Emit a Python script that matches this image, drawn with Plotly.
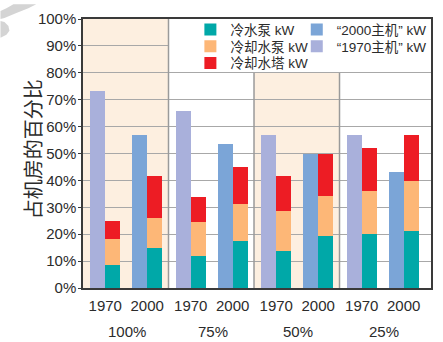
import plotly.graph_objects as go

# Share of plant-room power by load level (1970 vs 2000 plants)
groups = ["100%", "75%", "50%", "25%"]
years = ["1970", "2000"]

chiller_1970 = [73.2, 65.8, 57.0, 57.0]
chiller_2000 = [57.0, 53.7, 49.8, 43.1]

chw_pump_1970 = [8.7, 12.0, 13.8, 20.0]
chw_pump_2000 = [14.9, 17.4, 19.3, 21.1]
cw_pump_1970 = [9.5, 12.4, 15.0, 16.1]
cw_pump_2000 = [11.0, 13.9, 15.0, 18.7]
tower_1970 = [6.6, 9.5, 12.8, 15.8]
tower_2000 = [15.7, 13.6, 15.4, 17.2]

y_ticks = list(range(0, 101, 10))
y_title = "占机房的百分比"

FONT = "Liberation Sans, Arial, Noto Sans CJK SC, sans-serif"
TXT = "#2b2b2b"
C_TEAL = "#00a8a8"
C_ORANGE = "#fdb777"
C_RED = "#ed1c24"
C_2000 = "#7ba5d7"
C_1970 = "#a9b0db"
C_PEACH = "#fdefe0"

W, H = 443, 342
ML, MR, MT, MB = 83, 10, 15, 54
XMAX = 4.07
BW = 0.174
OFF = {"1970": 0.26, "2000": 0.75}

x70 = [i + OFF["1970"] for i in range(len(groups))]
x00 = [i + OFF["2000"] for i in range(len(groups))]


def px(xp, yp):
    """Pixel position -> paper coordinates."""
    pw, ph = W - ML - MR, H - MT - MB
    return (xp - ML) / pw, (H - MB - yp) / ph


fig = go.Figure()

# legend slots: (left pixel, row centre pixel)
slots = {
    "legend": (191, 26), "legend2": (191, 43), "legend3": (191, 60),
    "legend4": (298, 26), "legend5": (298, 43),
}

stack_x = [x + BW / 2 for x in x70] + [x + BW / 2 for x in x00]
for name, color, v70, v00, lg in [
    ("冷水泵 kW", C_TEAL, chw_pump_1970, chw_pump_2000, "legend"),
    ("冷却水泵 kW", C_ORANGE, cw_pump_1970, cw_pump_2000, "legend2"),
    ("冷却水塔 kW", C_RED, tower_1970, tower_2000, "legend3"),
]:
    fig.add_trace(go.Bar(
        x=stack_x, y=v70 + v00, width=BW, name=name,
        marker=dict(color=color, line=dict(width=0)), legend=lg,
    ))

fig.add_trace(go.Bar(
    x=[x - BW / 2 for x in x00], y=chiller_2000, width=BW, name="“2000主机” kW",
    marker=dict(color=C_2000, line=dict(width=0)), legend="legend4",
))
fig.add_trace(go.Bar(
    x=[x - BW / 2 for x in x70], y=chiller_1970, width=BW, name="“1970主机” kW",
    marker=dict(color=C_1970, line=dict(width=0)), legend="legend5",
))

shapes = []
# shaded load groups
for g in (0, 2):
    shapes.append(dict(type="rect", xref="x", yref="y", x0=g, x1=g + 1, y0=0, y1=100,
                       fillcolor=C_PEACH, line=dict(width=0), layer="below"))
# white panel behind the legend
shapes.append(dict(type="rect", xref="x", yref="y", x0=1, x1=XMAX, y0=80.3, y1=100,
                   fillcolor="white", line=dict(width=0), layer="between"))
# group dividers
shapes.append(dict(type="line", xref="x", yref="y", x0=1, x1=1, y0=0, y1=100,
                   line=dict(color="#9a9a9a", width=1.5), layer="between"))
for g in (2, 3):
    shapes.append(dict(type="line", xref="x", yref="y", x0=g, x1=g, y0=0, y1=80,
                       line=dict(color="#9a9a9a", width=1.5), layer="between"))


def path(points):
    pts = [px(*p) for p in points]
    return "M" + " L".join(f"{a:.4f},{b:.4f}" for a, b in pts) + " Z"


# faint corner logo strokes
for pts in (
    [(13, 0), (36, 0), (28, 4), (16, 9), (4, 14), (0, 15), (0, 7), (6, 4)],
    [(0, 17), (4, 18), (8, 22), (9, 27), (6, 31), (0, 34)],
):
    shapes.append(dict(type="path", xref="paper", yref="paper", path=path(pts),
                       fillcolor="#d4d4d4", line=dict(width=0), layer="above"))

annotations = []
for i, g in enumerate(groups):
    annotations.append(dict(x=i + 0.52, y=px(0, 332)[1], xref="x", yref="paper",
                            text=g, showarrow=False, font=dict(size=15, color=TXT, family=FONT),
                            xanchor="center", yanchor="middle"))
# y-axis title
tx, ty = px(32, 147)
annotations.append(dict(x=tx, y=ty, xref="paper", yref="paper", text=y_title,
                        textangle=-90, showarrow=False, xanchor="center", yanchor="middle",
                        font=dict(size=20, family="Noto Sans CJK SC", color=TXT)))

legends = {}
for key, (lx, ly) in slots.items():
    legends[key] = dict(
        x=px(lx, 0)[0], y=px(0, ly)[1], xanchor="left", yanchor="middle",
        bgcolor="rgba(0,0,0,0)", borderwidth=0, itemclick=False,
        font=dict(size=13.5, family=FONT, color=TXT),
    )

fig.update_layout(
    width=W, height=H,
    margin=dict(l=ML, r=MR, t=MT, b=MB),
    paper_bgcolor="white", plot_bgcolor="rgba(0,0,0,0)",
    barmode="stack", bargap=0,
    font=dict(family=FONT, color=TXT),
    shapes=shapes, annotations=annotations,
    showlegend=True,
    **legends,
)

fig.update_xaxes(
    range=[0, XMAX], tickvals=x70 + x00,
    ticktext=[years[0]] * len(groups) + [years[1]] * len(groups),
    tickfont=dict(size=15, family=FONT, color=TXT), ticklabelstandoff=3,
    showgrid=False, zeroline=False, ticks="",
    showline=True, linecolor="#3a3a3a", linewidth=1.5, mirror=True,
)
fig.update_yaxes(
    range=[0, 100], tickvals=y_ticks, ticktext=[f"{v}%" for v in y_ticks],
    tickfont=dict(size=15, family=FONT, color=TXT),
    showgrid=True, gridcolor="#a8a8a8", gridwidth=1, zeroline=False,
    ticks="outside", ticklen=3, tickcolor="#3a3a3a", ticklabelstandoff=-1,
    showline=True, linecolor="#3a3a3a", linewidth=1.5, mirror=True,
)

fig.write_html("out.html")
